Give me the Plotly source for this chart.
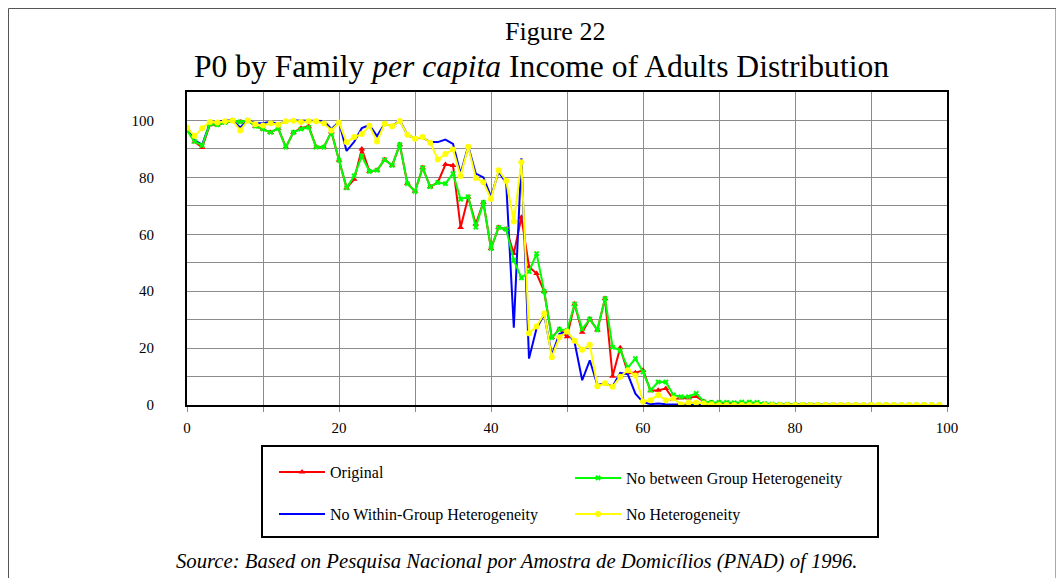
import plotly.graph_objects as go

x_vals = list(range(0, 100))

original = [97, 92.5, 90.5, 98.5, 98.5, 99.3, 100, 99.5, 100, 98,
            97, 95.8, 97.2, 90.6, 95.8, 97.3, 98, 90.6, 90.6, 96,
            86, 76.3, 79.3, 90, 82.1, 82.5, 86.2, 84.2, 91.5, 77.8,
            75.1, 83.4, 76.7, 78.2, 84.5, 84.2, 62.4, 73, 63.6, 71.2,
            55, 62.4, 61.8, 53.2, 66, 48.6, 46.2, 39.9, 23.7, 26.6,
            24, 35.5, 25.6, 30.2, 26.4, 37.4, 10.1, 20.1, 11.3, 11.3,
            12.2, 5, 5.2, 5.8, 2, 2.5, 2.5, 3, 1.2, 0.8,
            0.7, 0.5, 0.3, 0.2, 0.2, 0.2, 0.1, 0.1, 0.1, 0.1,
            0, 0, 0, 0, 0, 0, 0, 0, 0, 0,
            0, 0, 0, 0, 0, 0, 0, 0, 0, 0]

no_between = [96.5, 92.6, 91.2, 98.7, 98.5, 99.3, 100, 99.5, 100, 98,
              97, 95.8, 97.2, 90.6, 95.8, 97, 97.6, 90.6, 90.6, 96,
              86, 76.3, 80.5, 87.5, 82.1, 82.5, 86.2, 84.2, 91.5, 77.8,
              75.1, 83.4, 76.7, 78.2, 77.8, 81.3, 72.3, 73.2, 62.5, 71.2,
              55, 62.4, 61.8, 50.9, 44.7, 46.9, 53.2, 39.9, 23.7, 26.6,
              26.2, 35.5, 26.7, 30.2, 26.4, 37.4, 20.3, 19.2, 13.1, 16.3,
              11.6, 5.2, 8.1, 8.1, 3.5, 2.9, 2.9, 4.1, 1.2, 0.9,
              0.9, 0.9, 0.8, 1, 1, 0.9, 0.5, 0.3, 0.2, 0.2,
              0.1, 0.1, 0.1, 0.1, 0, 0, 0, 0, 0, 0,
              0, 0, 0, 0, 0, 0, 0, 0, 0, 0]

no_within = [98, 93, 91.5, 99, 99.5, 100, 100, 97.5, 100, 99,
             99, 99.5, 98.7, 99.7, 100, 100, 100, 100, 99.8, 97,
             99.5, 89.3, 92.5, 97.3, 98.4, 94.5, 98.8, 98, 100, 95,
             93.6, 94, 92.4, 92.4, 93.3, 91.8, 81.3, 91, 81.3, 80,
             73.2, 82, 78, 27.2, 86.7, 16.3, 27, 31.8, 17.5, 25,
             25.8, 22, 8.7, 15.7, 7, 7.6, 6.5, 11.3, 10.8, 4,
             1, 0.3, 0.5, 0.3, 0.2, 0.2, 0.1, 0.1, 0.1, 0,
             0, 0, 0, 0, 0, 0, 0, 0, 0, 0,
             0, 0, 0, 0, 0, 0, 0, 0, 0, 0,
             0, 0, 0, 0, 0, 0, 0, 0, 0, 0]

no_het = [97.5, 94.5, 97.3, 99.5, 99.3, 99.7, 100, 96.5, 100, 98.7,
          98.2, 99, 98.5, 99.7, 99.9, 99.5, 99.7, 99.7, 99, 96.5,
          99.3, 92.3, 94.2, 95.2, 98.1, 92.6, 98.8, 98, 99.8, 95,
          93.6, 94.2, 92.2, 86.3, 88.2, 89.8, 80.5, 90.8, 79.8, 78.3,
          72.4, 82.5, 78.8, 64.5, 85.3, 25.2, 27.6, 32.2, 16.8, 23.8,
          25.8, 22.6, 19.4, 21.2, 6.6, 7.6, 6.4, 9.9, 12.2, 10.4,
          1.2, 1.7, 3.5, 1.7, 2.3, 0.2, 0.8, 0.8, 0.5, 0.3,
          0, 0, 0, 0, 0, 0, 0, 0, 0, 0,
          0, 0, 0, 0, 0, 0, 0, 0, 0, 0,
          0, 0, 0, 0, 0, 0, 0, 0, 0, 0]

x_tickvals = [0, 10, 20, 30, 40, 50, 60, 70, 80, 90, 100]
x_ticktext = ["0", "", "20", "", "40", "", "60", "", "80", "", "100"]
y_tickvals = [0, 10, 20, 30, 40, 50, 60, 70, 80, 90, 100, 110]
y_ticktext = ["0", "", "20", "", "40", "", "60", "", "80", "", "100", ""]

title_line1 = "Figure 22"
title_line2 = "P0 by Family <i>per capita</i> Income of Adults Distribution"
source_text = "<i>Source: Based on Pesquisa Nacional por Amostra de Domicílios (PNAD) of 1996.</i>"

FONT = "Times New Roman, Liberation Serif, serif"
W, H = 1064, 578
OFF = 8  # page body margin offset
# plot area in screenshot pixels: left 187, right 947, top 92, bottom 405
L = 187 - OFF
T = 92 - OFF
R = W - (947 - OFF)
B = H - (405 - OFF)
PW, PH = W - L - R, H - T - B


def px(xp):
    return (xp - OFF - L) / PW


def py(yp):
    return (H - B - (yp - OFF)) / PH


fig = go.Figure()

fig.add_trace(go.Scatter(
    x=x_vals, y=original, name="Original", mode="lines+markers",
    line=dict(color="#FF0000", width=2),
    marker=dict(symbol="triangle-up", size=6, color="#FF0000"),
    legend="legend"))
fig.add_trace(go.Scatter(
    x=x_vals, y=no_within, name="No Within-Group Heterogeneity", mode="lines",
    line=dict(color="#0000FF", width=2),
    legend="legend3"))
fig.add_trace(go.Scatter(
    x=x_vals, y=no_between, name="No between Group Heterogeneity", mode="lines+markers",
    line=dict(color="#00FF00", width=2),
    marker=dict(symbol="x", size=5, color="#00FF00"),
    legend="legend2"))
fig.add_trace(go.Scatter(
    x=x_vals, y=no_het, name="No Heterogeneity", mode="lines+markers",
    line=dict(color="#FFFF00", width=2),
    marker=dict(symbol="circle", size=6, color="#FFFF00"),
    legend="legend4"))

leg_common = dict(bgcolor="rgba(0,0,0,0)", borderwidth=0, itemwidth=46,
                  font=dict(family=FONT, size=16, color="black"),
                  xanchor="left", yanchor="middle")

fig.update_layout(
    width=W, height=H,
    margin=dict(l=L, r=R, t=T, b=B),
    paper_bgcolor="white", plot_bgcolor="white",
    showlegend=True,
    legend=dict(x=px(274), y=py(472), **leg_common),
    legend2=dict(x=px(570), y=py(478), **leg_common),
    legend3=dict(x=px(274), y=py(514), **leg_common),
    legend4=dict(x=px(570), y=py(514), **leg_common),
    xaxis=dict(range=[0, 100], tickvals=x_tickvals, ticktext=x_ticktext,
               showgrid=True, gridcolor="#8c8c8c", gridwidth=1,
               zeroline=False, showline=True, linecolor="black", linewidth=2,
               mirror=True, ticks="outside", ticklen=5, tickcolor="#8c8c8c",
               ticklabelstandoff=3,
               tickfont=dict(family=FONT, size=15, color="black")),
    yaxis=dict(range=[0, 110], tickvals=y_tickvals, ticktext=y_ticktext,
               showgrid=True, gridcolor="#8c8c8c", gridwidth=1,
               zeroline=False, showline=True, linecolor="black", linewidth=2,
               mirror=True, ticks="", ticklabelstandoff=28,
               tickfont=dict(family=FONT, size=15, color="black")),
)

fig.add_annotation(text=title_line1, xref="paper", yref="paper",
                   x=px(555), y=py(32), xanchor="center", yanchor="middle",
                   showarrow=False, font=dict(family=FONT, size=26, color="black"))
fig.add_annotation(text=title_line2, xref="paper", yref="paper",
                   x=px(541), y=py(66), xanchor="center", yanchor="middle",
                   showarrow=False, font=dict(family=FONT, size=31.6, color="black"))
fig.add_annotation(text=source_text, xref="paper", yref="paper",
                   x=px(516), y=py(561), xanchor="center", yanchor="middle",
                   showarrow=False, font=dict(family=FONT, size=20.7, color="black"))

# outer chart border
fig.add_shape(type="rect", xref="paper", yref="paper",
              x0=px(8.5), x1=px(1056), y0=py(8.5), y1=py(620),
              line=dict(color="#555555", width=1), layer="below")
# legend box
fig.add_shape(type="rect", xref="paper", yref="paper",
              x0=px(262), x1=px(878), y0=py(446), y1=py(537),
              line=dict(color="black", width=2), fillcolor="white", layer="below")

fig.write_html("out.html")
